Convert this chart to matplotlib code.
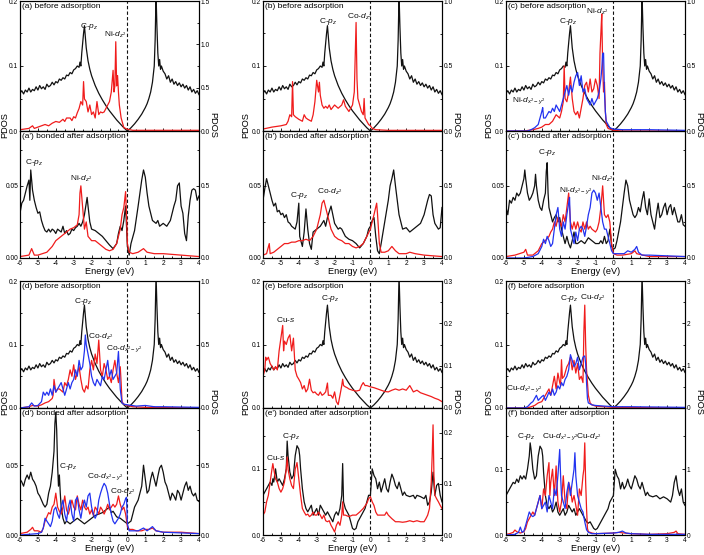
import matplotlib
matplotlib.use("Agg")
import matplotlib.pyplot as plt
from matplotlib.ticker import AutoMinorLocator, MultipleLocator

plt.rcParams['font.family'] = ['Liberation Sans', 'DejaVu Sans']
plt.rcParams['mathtext.fontset'] = 'custom'
plt.rcParams['mathtext.rm'] = 'Liberation Sans'
plt.rcParams['mathtext.it'] = 'Liberation Sans:italic'
plt.rcParams['axes.unicode_minus'] = False

# ---- data: (energy eV, PDOS) ----
# black C-pz of pristine graphene, same in all "before adsorption" panels (left axis)
graphene_cpz = [(-6.0,0.058),(-5.9,0.062),(-5.8,0.057),(-5.7,0.063),(-5.6,0.06),(-5.5,0.066),(-5.4,0.06),(-5.3,0.064),(-5.2,0.062),(-5.1,0.068),(-5.0,0.063),(-4.9,0.07),(-4.8,0.065),(-4.7,0.068),(-4.6,0.064),(-4.5,0.072),(-4.4,0.068),(-4.3,0.07),(-4.2,0.075),(-4.1,0.071),(-4.0,0.076),(-3.9,0.074),(-3.8,0.08),(-3.7,0.078),(-3.6,0.082),(-3.5,0.08),(-3.4,0.086),(-3.3,0.085),(-3.2,0.09),(-3.1,0.088),(-3.0,0.094),(-2.9,0.096),(-2.8,0.1),(-2.7,0.098),(-2.65,0.106),(-2.6,0.1),(-2.55,0.12),(-2.5,0.135),(-2.45,0.15),(-2.4,0.162),(-2.35,0.145),(-2.3,0.128),(-2.2,0.108),(-2.1,0.095),(-2.0,0.085),(-1.8,0.07),(-1.6,0.058),(-1.4,0.048),(-1.2,0.039),(-1.0,0.031),(-0.8,0.024),(-0.6,0.017),(-0.4,0.011),(-0.2,0.005),(0.0,0.0),(0.2,0.005),(0.4,0.011),(0.6,0.018),(0.8,0.026),(1.0,0.036),(1.1,0.042),(1.2,0.05),(1.3,0.06),(1.4,0.075),(1.5,0.1),(1.55,0.14),(1.6,0.21),(1.65,0.16),(1.7,0.12),(1.75,0.1),(1.8,0.11),(1.85,0.095),(1.9,0.1),(2.0,0.092),(2.1,0.088),(2.2,0.08),(2.3,0.085),(2.4,0.075),(2.5,0.08),(2.6,0.072),(2.7,0.076),(2.8,0.07),(2.9,0.074),(3.0,0.068),(3.1,0.072),(3.2,0.066),(3.3,0.07),(3.4,0.063),(3.5,0.068),(3.6,0.06),(3.7,0.064),(3.8,0.058),(3.9,0.062),(4.0,0.056)]

# (a) Ni
a_ni_dz2 = [(-6.0,0.015),(-5.5,0.03),(-5.3,0.06),(-5.2,0.03),(-5.0,0.045),(-4.8,0.06),(-4.6,0.075),(-4.4,0.06),(-4.2,0.09),(-4.0,0.11),(-3.8,0.1),(-3.6,0.135),(-3.5,0.11),(-3.4,0.15),(-3.2,0.15),(-3.1,0.12),(-3.0,0.165),(-2.9,0.15),(-2.8,0.21),(-2.7,0.26),(-2.6,0.34),(-2.5,0.3),(-2.45,0.57),(-2.4,0.37),(-2.3,0.34),(-2.2,0.22),(-2.1,0.3),(-2.0,0.19),(-1.9,0.22),(-1.8,0.15),(-1.7,0.34),(-1.6,0.19),(-1.5,0.22),(-1.4,0.21),(-1.3,0.22),(-1.2,0.26),(-1.1,0.3),(-1.0,0.34),(-0.9,0.45),(-0.8,0.7),(-0.75,0.45),(-0.7,0.52),(-0.65,1.03),(-0.6,0.52),(-0.55,0.64),(-0.5,0.45),(-0.45,0.3),(-0.35,0.15),(-0.2,0.04),(0.0,0.02),(0.3,0.008),(1.0,0.008),(4.0,0.008)]
a_bond_cpz = [(-6.0,0.031),(-5.9,0.038),(-5.8,0.04),(-5.7,0.045),(-5.6,0.05),(-5.5,0.054),(-5.45,0.04),(-5.4,0.061),(-5.3,0.047),(-5.2,0.04),(-5.1,0.035),(-5.0,0.031),(-4.9,0.032),(-4.8,0.026),(-4.7,0.022),(-4.6,0.019),(-4.5,0.018),(-4.4,0.02),(-4.3,0.018),(-4.2,0.02),(-4.1,0.019),(-4.0,0.017),(-3.9,0.02),(-3.8,0.019),(-3.7,0.018),(-3.6,0.022),(-3.5,0.017),(-3.4,0.019),(-3.3,0.016),(-3.2,0.017),(-3.1,0.02),(-3.0,0.019),(-2.9,0.021),(-2.8,0.022),(-2.7,0.024),(-2.6,0.022),(-2.5,0.025),(-2.4,0.03),(-2.3,0.038),(-2.25,0.042),(-2.2,0.036),(-2.1,0.025),(-2.0,0.02),(-1.8,0.019),(-1.6,0.017),(-1.4,0.015),(-1.2,0.012),(-1.0,0.009),(-0.8,0.0065),(-0.6,0.01),(-0.5,0.017),(-0.4,0.022),(-0.3,0.019),(-0.2,0.026),(-0.1,0.036),(0.0,0.008),(0.1,0.002),(0.2,0.01),(0.4,0.019),(0.6,0.036),(0.8,0.054),(0.9,0.061),(1.0,0.056),(1.1,0.045),(1.2,0.036),(1.4,0.026),(1.6,0.024),(1.7,0.026),(1.8,0.022),(2.0,0.024),(2.2,0.022),(2.4,0.026),(2.5,0.031),(2.6,0.036),(2.7,0.04),(2.8,0.05),(2.9,0.052),(3.0,0.036),(3.1,0.031),(3.2,0.017),(3.3,0.012),(3.4,0.029),(3.5,0.04),(3.6,0.047),(3.7,0.048),(3.8,0.047),(3.9,0.04),(4.0,0.043)]
a_bond_ni_dz2 = [(-6.0,0.01),(-5.5,0.02),(-5.35,0.065),(-5.2,0.02),(-5.0,0.02),(-4.5,0.04),(-4.2,0.08),(-4.0,0.12),(-3.8,0.14),(-3.6,0.16),(-3.4,0.18),(-3.2,0.2),(-3.0,0.21),(-2.8,0.23),(-2.7,0.3),(-2.65,0.45),(-2.6,0.5),(-2.5,0.35),(-2.4,0.2),(-2.3,0.25),(-2.2,0.15),(-2.0,0.12),(-1.8,0.12),(-1.6,0.1),(-1.4,0.08),(-1.2,0.06),(-1.0,0.05),(-0.8,0.06),(-0.6,0.1),(-0.4,0.2),(-0.3,0.3),(-0.2,0.35),(-0.1,0.46),(-0.05,0.3),(0.0,0.1),(0.1,0.04),(0.3,0.03),(0.6,0.04),(0.9,0.065),(1.1,0.04),(1.5,0.03),(2.0,0.03),(3.0,0.02),(4.0,0.01)]

# (b) Co
b_co_dz2 = [(-6.0,0.015),(-5.5,0.03),(-5.0,0.04),(-4.7,0.05),(-4.6,0.075),(-4.5,0.125),(-4.4,0.11),(-4.35,0.38),(-4.3,0.125),(-4.2,0.11),(-4.0,0.09),(-3.8,0.075),(-3.7,0.125),(-3.6,0.1),(-3.5,0.09),(-3.3,0.075),(-3.2,0.125),(-3.1,0.225),(-3.0,0.39),(-2.9,0.3),(-2.85,0.375),(-2.8,0.275),(-2.7,0.2),(-2.6,0.175),(-2.5,0.19),(-2.4,0.175),(-2.3,0.2),(-2.2,0.165),(-2.0,0.2),(-1.8,0.175),(-1.6,0.2),(-1.5,0.24),(-1.4,0.19),(-1.2,0.15),(-1.0,0.2),(-0.9,0.3),(-0.8,0.835),(-0.75,0.4),(-0.7,0.25),(-0.6,0.2),(-0.5,0.15),(-0.4,0.125),(-0.35,0.25),(-0.3,0.1),(-0.1,0.05),(0.0,0.04),(0.1,0.02),(0.3,0.01),(1.0,0.005),(4.0,0.005)]
b_bond_cpz = [(-6.0,0.04),(-5.9,0.048),(-5.8,0.055),(-5.7,0.05),(-5.6,0.045),(-5.5,0.04),(-5.4,0.036),(-5.3,0.038),(-5.2,0.032),(-5.1,0.033),(-5.0,0.03),(-4.9,0.031),(-4.8,0.028),(-4.7,0.03),(-4.6,0.025),(-4.5,0.024),(-4.4,0.022),(-4.3,0.021),(-4.2,0.02),(-4.1,0.025),(-4.0,0.038),(-3.95,0.015),(-3.8,0.008),(-3.7,0.018),(-3.6,0.034),(-3.5,0.02),(-3.4,0.01),(-3.3,0.006),(-3.2,0.018),(-3.1,0.019),(-3.0,0.02),(-2.9,0.021),(-2.8,0.022),(-2.7,0.024),(-2.6,0.026),(-2.5,0.022),(-2.4,0.028),(-2.3,0.032),(-2.2,0.036),(-2.1,0.03),(-2.0,0.024),(-1.9,0.022),(-1.8,0.02),(-1.7,0.021),(-1.6,0.02),(-1.4,0.015),(-1.2,0.013),(-1.0,0.012),(-0.8,0.01),(-0.6,0.007),(-0.4,0.01),(-0.2,0.015),(-0.1,0.02),(0.0,0.022),(0.1,0.026),(0.2,0.028),(0.3,0.015),(0.4,0.005),(0.5,0.003),(0.6,0.01),(0.8,0.025),(1.0,0.04),(1.1,0.05),(1.2,0.055),(1.3,0.061),(1.4,0.05),(1.5,0.04),(1.6,0.03),(1.8,0.02),(2.0,0.021),(2.2,0.018),(2.4,0.02),(2.6,0.022),(2.8,0.024),(3.0,0.03),(3.2,0.04),(3.3,0.044),(3.4,0.043),(3.5,0.03),(3.6,0.024),(3.7,0.022),(3.8,0.02),(3.9,0.021),(4.0,0.035)]
b_bond_co_dz2 = [(-6.0,0.02),(-5.8,0.03),(-5.65,0.1),(-5.6,0.03),(-5.4,0.04),(-5.2,0.06),(-5.0,0.08),(-4.8,0.1),(-4.6,0.1),(-4.4,0.11),(-4.2,0.11),(-4.0,0.12),(-3.8,0.12),(-3.6,0.13),(-3.4,0.12),(-3.2,0.15),(-3.0,0.2),(-2.8,0.3),(-2.7,0.38),(-2.6,0.4),(-2.5,0.35),(-2.4,0.3),(-2.3,0.25),(-2.2,0.2),(-2.0,0.15),(-1.8,0.13),(-1.6,0.12),(-1.4,0.1),(-1.2,0.1),(-1.0,0.08),(-0.8,0.07),(-0.6,0.08),(-0.4,0.1),(-0.2,0.15),(0.0,0.2),(0.1,0.25),(0.2,0.3),(0.35,0.38),(0.4,0.3),(0.5,0.1),(0.6,0.04),(0.8,0.04),(1.0,0.05),(1.2,0.08),(1.4,0.05),(1.6,0.03),(2.0,0.03),(2.2,0.04),(2.5,0.03),(3.0,0.02),(4.0,0.01)]

# (c) Ni
c_ni_dz2 = [(-6.0,0.0),(-5.0,0.0),(-4.5,0.01),(-4.2,0.02),(-4.0,0.03),(-3.8,0.05),(-3.6,0.05),(-3.4,0.075),(-3.3,0.1),(-3.2,0.125),(-3.0,0.1),(-2.9,0.15),(-2.8,0.225),(-2.75,0.5),(-2.7,0.25),(-2.6,0.225),(-2.5,0.3),(-2.4,0.415),(-2.3,0.25),(-2.2,0.15),(-2.1,0.125),(-2.0,0.15),(-1.9,0.1),(-1.8,0.175),(-1.7,0.25),(-1.6,0.35),(-1.5,0.375),(-1.4,0.3),(-1.3,0.4),(-1.2,0.3),(-1.1,0.325),(-1.0,0.4),(-0.9,0.35),(-0.8,0.25),(-0.75,0.6),(-0.7,0.75),(-0.65,0.9),(-0.6,0.5),(-0.55,0.3),(-0.5,0.375),(-0.45,0.15),(-0.4,0.05),(-0.3,0.02),(-0.1,0.01),(0.0,0.005),(0.5,0.0),(4.0,0.0)]
c_ni_dx2y2 = [(-6.0,0.0),(-4.8,0.0),(-4.6,0.01),(-4.4,0.025),(-4.2,0.05),(-4.1,0.1),(-4.0,0.15),(-3.95,0.18),(-3.9,0.1),(-3.8,0.1),(-3.7,0.125),(-3.6,0.15),(-3.5,0.14),(-3.4,0.175),(-3.3,0.15),(-3.2,0.2),(-3.1,0.175),(-3.0,0.15),(-2.9,0.2),(-2.8,0.25),(-2.7,0.3),(-2.6,0.35),(-2.5,0.275),(-2.4,0.35),(-2.3,0.3),(-2.2,0.375),(-2.1,0.425),(-2.0,0.45),(-1.9,0.35),(-1.8,0.425),(-1.7,0.3),(-1.6,0.325),(-1.5,0.25),(-1.4,0.225),(-1.3,0.2),(-1.2,0.25),(-1.1,0.2),(-1.0,0.225),(-0.9,0.25),(-0.8,0.3),(-0.7,0.4),(-0.65,0.475),(-0.6,0.595),(-0.55,0.6),(-0.5,0.3),(-0.45,0.15),(-0.4,0.075),(-0.2,0.025),(0.0,0.015),(0.5,0.01),(1.0,0.01),(2.0,0.01),(4.0,0.005)]
c_bond_cpz = [(-6.0,0.035),(-5.9,0.03),(-5.8,0.04),(-5.7,0.038),(-5.6,0.042),(-5.5,0.04),(-5.4,0.045),(-5.3,0.043),(-5.2,0.045),(-5.1,0.05),(-5.0,0.055),(-4.95,0.061),(-4.9,0.055),(-4.8,0.045),(-4.7,0.04),(-4.6,0.042),(-4.5,0.045),(-4.4,0.05),(-4.35,0.058),(-4.3,0.05),(-4.2,0.04),(-4.1,0.035),(-4.0,0.033),(-3.9,0.04),(-3.8,0.045),(-3.75,0.06),(-3.7,0.066),(-3.65,0.045),(-3.6,0.035),(-3.5,0.03),(-3.4,0.025),(-3.3,0.028),(-3.2,0.03),(-3.1,0.025),(-3.0,0.028),(-2.9,0.02),(-2.8,0.015),(-2.7,0.01),(-2.6,0.015),(-2.5,0.01),(-2.4,0.007),(-2.3,0.012),(-2.2,0.018),(-2.1,0.01),(-2.0,0.01),(-1.8,0.012),(-1.6,0.01),(-1.4,0.014),(-1.2,0.012),(-1.0,0.01),(-0.8,0.01),(-0.7,0.012),(-0.6,0.01),(-0.5,0.015),(-0.4,0.01),(-0.3,0.012),(-0.2,0.02),(-0.15,0.015),(-0.1,0.008),(0.0,0.006),(0.1,0.007),(0.2,0.012),(0.4,0.025),(0.5,0.035),(0.6,0.045),(0.7,0.054),(0.8,0.05),(0.9,0.04),(1.0,0.035),(1.1,0.03),(1.2,0.028),(1.3,0.03),(1.4,0.035),(1.5,0.032),(1.6,0.04),(1.7,0.046),(1.8,0.035),(1.9,0.03),(2.0,0.041),(2.1,0.03),(2.2,0.025),(2.3,0.02),(2.4,0.03),(2.5,0.038),(2.6,0.028),(2.7,0.03),(2.8,0.035),(2.9,0.038),(3.0,0.03),(3.1,0.035),(3.2,0.037),(3.3,0.03),(3.4,0.035),(3.5,0.03),(3.6,0.025),(3.7,0.025),(3.8,0.03),(3.9,0.023),(4.0,0.022)]
c_bond_ni_dz2 = [(-6.0,0.01),(-5.5,0.02),(-5.0,0.04),(-4.9,0.06),(-4.8,0.02),(-4.5,0.02),(-4.2,0.05),(-4.0,0.1),(-3.8,0.12),(-3.6,0.15),(-3.5,0.18),(-3.4,0.2),(-3.3,0.25),(-3.2,0.22),(-3.1,0.28),(-3.0,0.25),(-2.9,0.22),(-2.8,0.3),(-2.7,0.25),(-2.6,0.35),(-2.5,0.45),(-2.4,0.25),(-2.3,0.2),(-2.2,0.25),(-2.1,0.2),(-2.0,0.25),(-1.9,0.2),(-1.8,0.18),(-1.7,0.25),(-1.6,0.2),(-1.5,0.25),(-1.4,0.2),(-1.3,0.22),(-1.2,0.2),(-1.0,0.18),(-0.9,0.2),(-0.8,0.25),(-0.7,0.35),(-0.6,0.5),(-0.5,0.3),(-0.4,0.28),(-0.3,0.3),(-0.2,0.25),(-0.1,0.1),(0.0,0.03),(0.2,0.02),(0.5,0.02),(1.0,0.03),(1.2,0.05),(1.3,0.03),(2.0,0.01),(4.0,0.01)]
c_bond_ni_dx2y2 = [(-6.0,0.0),(-5.0,0.0),(-4.5,0.01),(-4.2,0.03),(-4.0,0.08),(-3.9,0.13),(-3.8,0.1),(-3.7,0.15),(-3.6,0.12),(-3.5,0.08),(-3.4,0.1),(-3.3,0.2),(-3.2,0.3),(-3.1,0.35),(-3.0,0.2),(-2.9,0.15),(-2.8,0.25),(-2.7,0.2),(-2.6,0.3),(-2.5,0.38),(-2.45,0.42),(-2.4,0.2),(-2.3,0.15),(-2.2,0.1),(-2.1,0.18),(-2.0,0.12),(-1.9,0.2),(-1.8,0.22),(-1.7,0.2),(-1.6,0.15),(-1.5,0.22),(-1.4,0.3),(-1.3,0.35),(-1.2,0.45),(-1.1,0.47),(-1.0,0.45),(-0.9,0.4),(-0.8,0.45),(-0.7,0.35),(-0.6,0.25),(-0.5,0.2),(-0.4,0.2),(-0.3,0.15),(-0.2,0.1),(-0.1,0.05),(0.0,0.03),(0.3,0.03),(0.6,0.03),(0.8,0.05),(1.0,0.04),(1.2,0.06),(1.3,0.08),(1.4,0.04),(1.6,0.02),(2.0,0.02),(4.0,0.01)]

# (d) Co
d_co_dz2 = [(-6.0,0.0),(-5.5,0.01),(-5.3,0.02),(-5.0,0.015),(-4.8,0.025),(-4.6,0.04),(-4.4,0.05),(-4.2,0.075),(-4.15,0.1),(-4.1,0.225),(-4.0,0.125),(-3.9,0.15),(-3.8,0.15),(-3.6,0.125),(-3.5,0.2),(-3.4,0.175),(-3.3,0.225),(-3.2,0.3),(-3.1,0.25),(-3.0,0.34),(-2.9,0.225),(-2.8,0.275),(-2.7,0.325),(-2.6,0.225),(-2.5,0.15),(-2.4,0.125),(-2.3,0.175),(-2.2,0.15),(-2.1,0.3),(-2.0,0.375),(-1.9,0.3),(-1.8,0.425),(-1.7,0.35),(-1.6,0.535),(-1.5,0.3),(-1.4,0.25),(-1.3,0.35),(-1.2,0.3),(-1.1,0.225),(-1.0,0.25),(-0.9,0.2),(-0.8,0.3),(-0.7,0.375),(-0.6,0.275),(-0.5,0.2),(-0.4,0.325),(-0.35,0.2),(-0.3,0.05),(-0.2,0.03),(0.0,0.02),(0.3,0.01),(1.0,0.005),(4.0,0.0)]
d_co_dx2y2 = [(-6.0,0.0),(-5.5,0.01),(-5.35,0.04),(-5.2,0.015),(-5.0,0.02),(-4.8,0.05),(-4.7,0.125),(-4.6,0.1),(-4.5,0.125),(-4.4,0.1),(-4.3,0.15),(-4.2,0.1),(-4.1,0.175),(-4.0,0.125),(-3.9,0.15),(-3.8,0.175),(-3.7,0.2),(-3.6,0.15),(-3.5,0.1),(-3.4,0.15),(-3.3,0.2),(-3.2,0.15),(-3.1,0.2),(-3.0,0.225),(-2.9,0.3),(-2.8,0.25),(-2.7,0.375),(-2.6,0.3),(-2.5,0.325),(-2.4,0.45),(-2.35,0.575),(-2.3,0.5),(-2.2,0.425),(-2.1,0.35),(-2.0,0.25),(-1.9,0.2),(-1.8,0.175),(-1.7,0.225),(-1.6,0.2),(-1.5,0.175),(-1.4,0.25),(-1.3,0.225),(-1.2,0.3),(-1.1,0.375),(-1.0,0.25),(-0.9,0.3),(-0.8,0.225),(-0.7,0.25),(-0.6,0.275),(-0.5,0.445),(-0.45,0.3),(-0.4,0.15),(-0.3,0.04),(-0.2,0.03),(0.0,0.025),(0.5,0.015),(1.0,0.02),(1.5,0.01),(2.0,0.01),(4.0,0.005)]
d_bond_cpz = [(-6.0,0.04),(-5.9,0.038),(-5.8,0.035),(-5.7,0.04),(-5.6,0.043),(-5.5,0.04),(-5.4,0.045),(-5.3,0.04),(-5.2,0.038),(-5.1,0.035),(-5.0,0.03),(-4.9,0.028),(-4.8,0.025),(-4.7,0.022),(-4.6,0.02),(-4.5,0.022),(-4.4,0.03),(-4.3,0.035),(-4.2,0.045),(-4.1,0.06),(-4.05,0.08),(-4.0,0.088),(-3.95,0.075),(-3.9,0.05),(-3.85,0.035),(-3.8,0.043),(-3.75,0.03),(-3.7,0.02),(-3.6,0.012),(-3.5,0.008),(-3.4,0.01),(-3.2,0.008),(-3.0,0.01),(-2.8,0.012),(-2.6,0.01),(-2.4,0.008),(-2.2,0.01),(-2.0,0.012),(-1.8,0.014),(-1.6,0.015),(-1.4,0.016),(-1.2,0.018),(-1.0,0.02),(-0.9,0.016),(-0.8,0.017),(-0.6,0.013),(-0.4,0.012),(-0.2,0.01),(0.0,0.008),(0.2,0.01),(0.4,0.02),(0.6,0.025),(0.8,0.035),(0.9,0.05),(1.0,0.04),(1.1,0.03),(1.2,0.032),(1.3,0.04),(1.4,0.045),(1.5,0.04),(1.6,0.035),(1.7,0.042),(1.8,0.048),(1.9,0.05),(2.0,0.045),(2.1,0.038),(2.2,0.035),(2.3,0.03),(2.4,0.025),(2.5,0.03),(2.6,0.028),(2.7,0.025),(2.8,0.032),(2.9,0.03),(3.0,0.025),(3.1,0.03),(3.2,0.035),(3.3,0.038),(3.4,0.032),(3.5,0.035),(3.6,0.03),(3.7,0.028),(3.8,0.03),(3.9,0.025),(4.0,0.024)]
d_bond_co_dz2 = [(-6.0,0.01),(-5.6,0.02),(-5.4,0.04),(-5.3,0.055),(-5.2,0.03),(-5.0,0.03),(-4.8,0.02),(-4.7,0.05),(-4.6,0.1),(-4.5,0.13),(-4.4,0.16),(-4.3,0.15),(-4.2,0.2),(-4.1,0.22),(-4.0,0.3),(-3.9,0.2),(-3.8,0.17),(-3.7,0.15),(-3.6,0.2),(-3.5,0.28),(-3.4,0.18),(-3.3,0.15),(-3.2,0.2),(-3.1,0.25),(-3.0,0.2),(-2.9,0.18),(-2.8,0.28),(-2.7,0.22),(-2.6,0.18),(-2.5,0.25),(-2.4,0.2),(-2.3,0.18),(-2.2,0.2),(-2.1,0.15),(-2.0,0.18),(-1.9,0.14),(-1.8,0.2),(-1.7,0.18),(-1.6,0.15),(-1.5,0.2),(-1.4,0.18),(-1.3,0.15),(-1.2,0.18),(-1.1,0.22),(-1.0,0.18),(-0.9,0.2),(-0.8,0.22),(-0.7,0.2),(-0.6,0.22),(-0.5,0.28),(-0.45,0.25),(-0.4,0.22),(-0.3,0.18),(-0.2,0.2),(-0.1,0.15),(0.0,0.06),(0.1,0.04),(0.3,0.04),(0.5,0.03),(0.8,0.03),(1.0,0.04),(1.2,0.04),(1.4,0.05),(1.6,0.03),(2.0,0.02),(3.0,0.02),(4.0,0.01)]
d_bond_co_dx2y2 = [(-6.0,0.0),(-5.0,0.01),(-4.8,0.02),(-4.7,0.05),(-4.6,0.12),(-4.5,0.1),(-4.4,0.08),(-4.3,0.06),(-4.2,0.1),(-4.1,0.18),(-4.0,0.2),(-3.9,0.15),(-3.8,0.12),(-3.7,0.2),(-3.6,0.25),(-3.5,0.15),(-3.4,0.1),(-3.3,0.2),(-3.2,0.25),(-3.1,0.15),(-3.0,0.1),(-2.9,0.25),(-2.8,0.27),(-2.7,0.18),(-2.6,0.12),(-2.5,0.2),(-2.4,0.25),(-2.3,0.2),(-2.2,0.28),(-2.1,0.3),(-2.0,0.2),(-1.9,0.15),(-1.8,0.12),(-1.7,0.15),(-1.6,0.25),(-1.5,0.3),(-1.4,0.34),(-1.3,0.37),(-1.2,0.35),(-1.1,0.3),(-1.0,0.22),(-0.9,0.15),(-0.8,0.1),(-0.7,0.08),(-0.6,0.1),(-0.5,0.12),(-0.4,0.15),(-0.3,0.2),(-0.2,0.22),(-0.1,0.26),(-0.05,0.27),(0.0,0.08),(0.1,0.03),(0.3,0.03),(0.6,0.03),(0.9,0.05),(1.1,0.03),(1.4,0.06),(1.6,0.03),(2.0,0.02),(4.0,0.01)]

# (e) Cu-s
e_cu_s = [(-6.0,0.075),(-5.9,0.09),(-5.85,0.12),(-5.8,0.113),(-5.7,0.12),(-5.6,0.105),(-5.5,0.098),(-5.4,0.09),(-5.3,0.098),(-5.2,0.09),(-5.1,0.135),(-4.9,0.195),(-4.85,0.135),(-4.8,0.158),(-4.7,0.15),(-4.6,0.165),(-4.5,0.173),(-4.4,0.135),(-4.3,0.165),(-4.2,0.09),(-4.1,0.075),(-4.0,0.068),(-3.9,0.06),(-3.8,0.045),(-3.7,0.053),(-3.6,0.038),(-3.5,0.045),(-3.4,0.068),(-3.3,0.042),(-3.2,0.036),(-3.1,0.038),(-3.0,0.033),(-2.9,0.03),(-2.8,0.038),(-2.7,0.03),(-2.6,0.033),(-2.5,0.038),(-2.4,0.059),(-2.35,0.03),(-2.2,0.03),(-2.1,0.023),(-2.0,0.038),(-1.9,0.015),(-1.8,0.008),(-1.7,0.03),(-1.6,0.053),(-1.55,0.068),(-1.5,0.053),(-1.4,0.05),(-1.3,0.048),(-1.2,0.045),(-1.0,0.042),(-0.8,0.04),(-0.6,0.042),(-0.5,0.053),(-0.4,0.06),(-0.3,0.053),(-0.2,0.053),(0.0,0.05),(0.2,0.048),(0.4,0.045),(0.6,0.042),(0.8,0.039),(1.0,0.038),(1.2,0.042),(1.4,0.045),(1.6,0.042),(1.8,0.045),(2.0,0.042),(2.2,0.053),(2.4,0.038),(2.6,0.042),(2.8,0.036),(3.0,0.033),(3.2,0.03),(3.4,0.027),(3.6,0.023),(3.8,0.02),(4.0,0.015)]
e_bond_cpz = [(-6.0,0.06),(-5.9,0.065),(-5.8,0.07),(-5.7,0.075),(-5.6,0.08),(-5.5,0.075),(-5.45,0.085),(-5.4,0.08),(-5.3,0.1),(-5.2,0.08),(-5.1,0.085),(-5.0,0.08),(-4.9,0.075),(-4.8,0.085),(-4.7,0.1),(-4.65,0.142),(-4.6,0.12),(-4.5,0.095),(-4.4,0.085),(-4.3,0.09),(-4.2,0.12),(-4.1,0.135),(-4.0,0.13),(-3.95,0.12),(-3.9,0.1),(-3.8,0.07),(-3.7,0.05),(-3.6,0.04),(-3.5,0.035),(-3.4,0.04),(-3.3,0.045),(-3.2,0.03),(-3.1,0.035),(-3.0,0.04),(-2.9,0.03),(-2.8,0.045),(-2.7,0.04),(-2.6,0.035),(-2.5,0.03),(-2.4,0.035),(-2.3,0.03),(-2.2,0.025),(-2.1,0.02),(-2.0,0.03),(-1.9,0.035),(-1.8,0.03),(-1.7,0.04),(-1.6,0.06),(-1.55,0.108),(-1.5,0.05),(-1.4,0.04),(-1.3,0.035),(-1.2,0.03),(-1.1,0.02),(-1.0,0.01),(-0.9,0.008),(-0.8,0.01),(-0.7,0.02),(-0.6,0.025),(-0.5,0.03),(-0.4,0.035),(-0.3,0.04),(-0.2,0.05),(-0.1,0.06),(0.0,0.06),(0.05,0.08),(0.1,0.1),(0.2,0.09),(0.3,0.085),(0.4,0.07),(0.5,0.08),(0.6,0.065),(0.7,0.075),(0.8,0.085),(0.9,0.07),(1.0,0.065),(1.1,0.08),(1.2,0.092),(1.3,0.085),(1.4,0.075),(1.5,0.07),(1.6,0.08),(1.7,0.07),(1.8,0.06),(1.9,0.065),(2.0,0.06),(2.2,0.058),(2.4,0.06),(2.5,0.055),(2.6,0.06),(2.8,0.058),(3.0,0.055),(3.1,0.06),(3.2,0.045),(3.3,0.05),(3.4,0.065),(3.5,0.095),(3.6,0.06),(3.7,0.075),(3.8,0.078),(3.9,0.06),(4.0,0.05)]
e_bond_cu_s = [(-6.0,0.039),(-5.9,0.045),(-5.8,0.065),(-5.7,0.078),(-5.6,0.104),(-5.5,0.129),(-5.45,0.14),(-5.4,0.129),(-5.3,0.11),(-5.2,0.104),(-5.1,0.091),(-5.0,0.084),(-4.9,0.091),(-4.8,0.104),(-4.7,0.129),(-4.65,0.153),(-4.6,0.129),(-4.5,0.11),(-4.4,0.097),(-4.3,0.091),(-4.2,0.129),(-4.1,0.142),(-4.0,0.11),(-3.9,0.078),(-3.8,0.052),(-3.7,0.045),(-3.6,0.039),(-3.5,0.041),(-3.4,0.036),(-3.3,0.039),(-3.2,0.045),(-3.1,0.039),(-3.0,0.039),(-2.9,0.045),(-2.8,0.039),(-2.7,0.032),(-2.6,0.039),(-2.5,0.028),(-2.4,0.026),(-2.3,0.028),(-2.2,0.019),(-2.1,0.013),(-2.0,0.006),(-1.9,0.019),(-1.8,0.026),(-1.7,0.019),(-1.6,0.039),(-1.55,0.065),(-1.5,0.039),(-1.4,0.039),(-1.2,0.036),(-1.0,0.039),(-0.8,0.039),(-0.6,0.045),(-0.4,0.052),(-0.2,0.062),(-0.1,0.071),(0.0,0.075),(0.1,0.065),(0.2,0.058),(0.3,0.045),(0.4,0.039),(0.6,0.039),(0.8,0.039),(0.9,0.045),(1.0,0.039),(1.2,0.032),(1.4,0.026),(1.6,0.026),(1.8,0.025),(2.0,0.026),(2.2,0.028),(2.4,0.026),(2.6,0.028),(2.8,0.026),(3.0,0.026),(3.1,0.032),(3.2,0.039),(3.3,0.052),(3.4,0.104),(3.45,0.155),(3.5,0.216),(3.55,0.116),(3.6,0.078),(3.7,0.071),(3.8,0.065),(3.9,0.058),(4.0,0.052)]

# (f) Cu-d
f_cu_dz2 = [(-6.0,0.0),(-4.8,0.0),(-4.6,0.03),(-4.4,0.06),(-4.2,0.12),(-4.0,0.15),(-3.9,0.225),(-3.8,0.3),(-3.7,0.375),(-3.6,0.45),(-3.5,0.3),(-3.4,0.525),(-3.3,0.75),(-3.2,0.45),(-3.1,0.825),(-3.0,0.6),(-2.95,0.525),(-2.9,1.14),(-2.85,0.7),(-2.75,0.75),(-2.7,0.825),(-2.6,0.975),(-2.5,1.05),(-2.4,1.2),(-2.3,0.9),(-2.2,1.125),(-2.1,0.825),(-2.0,1.05),(-1.9,0.675),(-1.8,0.75),(-1.7,0.6),(-1.65,1.8),(-1.6,2.43),(-1.55,1.5),(-1.5,0.9),(-1.45,0.6),(-1.4,0.3),(-1.3,0.12),(-1.2,0.075),(-1.0,0.045),(0.0,0.015),(4.0,0.0)]
f_cu_dx2y2 = [(-6.0,0.0),(-5.0,0.0),(-4.8,0.03),(-4.7,0.075),(-4.6,0.12),(-4.5,0.15),(-4.4,0.225),(-4.3,0.3),(-4.2,0.18),(-4.1,0.225),(-4.0,0.27),(-3.9,0.3),(-3.8,0.18),(-3.7,0.27),(-3.6,0.375),(-3.5,0.3),(-3.4,0.45),(-3.3,0.3),(-3.2,0.375),(-3.1,0.525),(-3.0,0.45),(-2.9,0.6),(-2.8,0.525),(-2.7,0.675),(-2.6,0.75),(-2.5,0.9),(-2.4,1.26),(-2.3,1.125),(-2.2,0.975),(-2.1,1.05),(-2.0,1.2),(-1.9,0.9),(-1.8,1.05),(-1.7,1.2),(-1.6,1.23),(-1.55,1.05),(-1.5,0.6),(-1.45,0.225),(-1.4,0.12),(-1.2,0.075),(-1.0,0.06),(-0.5,0.045),(0.0,0.03),(1.0,0.03),(4.0,0.015)]
f_bond_cpz = [(-6.0,0.06),(-5.9,0.065),(-5.8,0.07),(-5.7,0.075),(-5.6,0.08),(-5.5,0.078),(-5.4,0.085),(-5.3,0.08),(-5.2,0.09),(-5.1,0.085),(-5.0,0.09),(-4.9,0.085),(-4.8,0.1),(-4.7,0.12),(-4.65,0.14),(-4.6,0.13),(-4.5,0.1),(-4.4,0.085),(-4.3,0.09),(-4.2,0.12),(-4.1,0.135),(-4.0,0.13),(-3.95,0.12),(-3.9,0.095),(-3.8,0.06),(-3.7,0.045),(-3.6,0.04),(-3.5,0.045),(-3.4,0.035),(-3.3,0.04),(-3.2,0.05),(-3.1,0.035),(-3.0,0.03),(-2.9,0.035),(-2.8,0.04),(-2.7,0.03),(-2.6,0.035),(-2.5,0.045),(-2.4,0.04),(-2.3,0.035),(-2.2,0.04),(-2.1,0.03),(-2.0,0.035),(-1.9,0.04),(-1.8,0.035),(-1.7,0.03),(-1.6,0.025),(-1.5,0.02),(-1.4,0.018),(-1.3,0.02),(-1.2,0.015),(-1.1,0.01),(-1.0,0.008),(-0.9,0.01),(-0.8,0.015),(-0.7,0.02),(-0.6,0.025),(-0.5,0.03),(-0.4,0.035),(-0.3,0.04),(-0.2,0.05),(-0.1,0.055),(0.0,0.06),(0.05,0.08),(0.1,0.1),(0.2,0.09),(0.3,0.085),(0.4,0.07),(0.5,0.08),(0.6,0.07),(0.7,0.075),(0.8,0.085),(0.9,0.075),(1.0,0.07),(1.1,0.08),(1.2,0.09),(1.3,0.085),(1.4,0.075),(1.5,0.07),(1.6,0.08),(1.7,0.07),(1.8,0.06),(1.9,0.065),(2.0,0.06),(2.2,0.058),(2.4,0.06),(2.6,0.055),(2.8,0.058),(3.0,0.055),(3.2,0.05),(3.3,0.06),(3.4,0.08),(3.5,0.09),(3.6,0.07),(3.7,0.06),(3.8,0.07),(3.9,0.05),(4.0,0.045)]
f_bond_cu_dz2 = [(-6.0,0.01),(-5.8,0.02),(-5.6,0.04),(-5.5,0.076),(-5.4,0.05),(-5.3,0.04),(-5.2,0.03),(-5.0,0.05),(-4.9,0.1),(-4.8,0.2),(-4.7,0.25),(-4.6,0.3),(-4.5,0.35),(-4.4,0.3),(-4.3,0.4),(-4.2,0.5),(-4.1,0.6),(-4.0,0.4),(-3.9,0.7),(-3.8,0.6),(-3.7,0.9),(-3.6,1.1),(-3.55,0.6),(-3.5,0.8),(-3.4,1.0),(-3.3,0.6),(-3.2,1.05),(-3.1,0.5),(-3.0,0.35),(-2.9,0.5),(-2.8,0.9),(-2.7,0.5),(-2.6,0.4),(-2.5,0.8),(-2.4,0.7),(-2.3,0.5),(-2.2,0.6),(-2.1,0.45),(-2.0,0.3),(-1.9,0.7),(-1.8,0.6),(-1.7,0.9),(-1.65,1.0),(-1.6,1.4),(-1.55,0.8),(-1.5,0.4),(-1.45,0.1),(-1.4,0.05),(-1.2,0.03),(-1.0,0.02),(0.0,0.03),(0.3,0.04),(0.6,0.03),(1.0,0.02),(2.0,0.01),(3.0,0.02),(3.4,0.04),(3.5,0.06),(3.6,0.02),(4.0,0.01)]
f_bond_cu_dx2y2 = [(-6.0,0.0),(-5.5,0.01),(-5.3,0.04),(-5.2,0.12),(-5.1,0.04),(-5.0,0.06),(-4.9,0.15),(-4.8,0.25),(-4.7,0.35),(-4.6,0.3),(-4.5,0.28),(-4.4,0.3),(-4.3,0.4),(-4.2,0.5),(-4.1,0.6),(-4.0,0.4),(-3.9,0.45),(-3.8,0.5),(-3.7,0.35),(-3.6,0.6),(-3.5,0.5),(-3.4,0.4),(-3.3,0.7),(-3.2,0.6),(-3.1,0.9),(-3.0,1.3),(-2.95,0.9),(-2.9,0.6),(-2.8,0.5),(-2.7,0.4),(-2.6,0.65),(-2.5,0.8),(-2.4,0.6),(-2.3,0.8),(-2.2,1.0),(-2.15,1.25),(-2.1,0.9),(-2.0,0.6),(-1.9,0.5),(-1.8,0.4),(-1.7,0.35),(-1.6,0.2),(-1.5,0.08),(-1.4,0.04),(-1.2,0.02),(-1.0,0.02),(0.0,0.03),(0.3,0.04),(0.5,0.06),(0.7,0.03),(1.0,0.02),(2.0,0.01),(4.0,0.01)]

RED = '#f01c1c'
BLUE = '#2233f0'
BLACK = '#111111'

CPZ = 'C-$p_z$'
NI_Z2 = 'Ni-$d_{z^2}$'
NI_XY = 'Ni-$d_{x^2-y^2}$'
CO_Z2 = 'Co-$d_{z^2}$'
CO_XY = 'Co-$d_{x^2-y^2}$'
CU_Z2 = 'Cu-$d_{z^2}$'
CU_XY = 'Cu-$d_{x^2-y^2}$'
CU_S = 'Cu-$s$'

panels = [
    dict(tag='a', col=0, row=0,
         top=(graphene_cpz, [(a_ni_dz2, RED)]), top_r=(1.5, [0, 0.5, 1.0, 1.5], '%.1f'),
         top_notes=[(CPZ, -2.15, 0.16), (NI_Z2, -0.7, 0.148)],
         bot=(a_bond_cpz, [(a_bond_ni_dz2, RED)]), bot_l=(0.088, [0, 0.05], '%.2f'), bot_r=(0.88, [0, 0.5], '%.1f'),
         bot_notes=[(CPZ, -5.2, 0.066), (NI_Z2, -2.6, 0.055)]),
    dict(tag='b', col=1, row=0,
         top=(graphene_cpz, [(b_co_dz2, RED)]), top_r=(1.0, [0, 0.5, 1.0], '%.1f'),
         top_notes=[(CPZ, -2.35, 0.168), (CO_Z2, -0.6, 0.175)],
         bot=(b_bond_cpz, [(b_bond_co_dz2, RED)]), bot_l=(0.088, [0, 0.05], '%.2f'), bot_r=(0.88, [0, 0.5], '%.1f'),
         bot_notes=[(CPZ, -4.0, 0.043), (CO_Z2, -2.3, 0.046)]),
    dict(tag='c', col=2, row=0,
         top=(graphene_cpz, [(c_ni_dz2, RED), (c_ni_dx2y2, BLUE)]), top_r=(1.0, [0, 0.5, 1.0], '%.1f'),
         top_notes=[(CPZ, -2.5, 0.168), (NI_Z2, -0.9, 0.183), (NI_XY, -4.7, 0.047)],
         bot=(c_bond_cpz, [(c_bond_ni_dz2, RED), (c_bond_ni_dx2y2, BLUE)]), bot_l=(0.088, [0, 0.05], '%.2f'), bot_r=(0.88, [0, 0.5], '%.1f'),
         bot_notes=[(CPZ, -3.7, 0.073), (NI_XY, -2.1, 0.047), (NI_Z2, -0.6, 0.055)]),
    dict(tag='d', col=0, row=1,
         top=(graphene_cpz, [(d_co_dz2, RED), (d_co_dx2y2, BLUE)]), top_r=(1.0, [0, 0.5, 1.0], '%.1f'),
         top_notes=[(CPZ, -2.45, 0.168), (CO_Z2, -1.5, 0.112), (CO_XY, -0.2, 0.094)],
         bot=(d_bond_cpz, [(d_bond_co_dz2, RED), (d_bond_co_dx2y2, BLUE)]), bot_l=(0.091, [0, 0.05], '%.2f'), bot_r=(0.91, [0, 0.5], '%.1f'),
         bot_notes=[(CPZ, -3.3, 0.049), (CO_XY, -1.25, 0.042), (CO_Z2, -0.25, 0.031)]),
    dict(tag='e', col=1, row=1,
         top=(graphene_cpz, [(e_cu_s, RED)]), top_r=(0.3, [0, 0.1, 0.2, 0.3], '%.1f'),
         top_notes=[(CPZ, -2.25, 0.172), (CU_S, -4.75, 0.139)],
         bot=(e_bond_cpz, [(e_bond_cu_s, RED)]), bot_l=(0.192, [0, 0.1], '%.1f'), bot_r=(0.249, [0, 0.1, 0.2], '%.1f'),
         bot_notes=[(CPZ, -4.4, 0.149), (CU_S, -5.3, 0.117)]),
    dict(tag='f', col=2, row=1,
         top=(graphene_cpz, [(f_cu_dz2, RED), (f_cu_dx2y2, BLUE)]), top_r=(3.0, [0, 1, 2, 3], '%d'),
         top_notes=[(CPZ, -2.45, 0.173), (CU_Z2, -1.15, 0.173), (CU_XY, -5.0, 0.031)],
         bot=(f_bond_cpz, [(f_bond_cu_dz2, RED), (f_bond_cu_dx2y2, BLUE)]), bot_l=(0.193, [0, 0.1], '%.1f'), bot_r=(1.93, [0, 1], '%d'),
         bot_notes=[(CPZ, -4.85, 0.149), (CU_XY, -3.0, 0.149), (CU_Z2, -1.4, 0.149)]),
]

W, H = 704, 555
col_x = [20, 263, 506]
row_y = [(1, 131, 258), (281, 408, 535)]
PW = 179
FS_TICK = 4.8
FS_TEXT = 6.0
FS_LABEL = 6.6
left_label_dx = [15, 17, 17]


def xy(pairs):
    return [p[0] for p in pairs], [p[1] for p in pairs]


def style(ax):
    ax.tick_params(which='both', direction='in', labelsize=FS_TICK, pad=1.2, width=0.6)
    ax.tick_params(which='major', length=2.5)
    ax.tick_params(which='minor', length=1.4)
    for s in ax.spines.values():
        s.set_linewidth(0.8)


fig = plt.figure(figsize=(W / 100, H / 100), dpi=100)

for p in panels:
    x0 = col_x[p['col']]
    y_top, y_mid, y_bot = row_y[p['row']]
    ax_t = fig.add_axes([x0 / W, 1 - y_mid / H, PW / W, (y_mid - y_top) / H])
    ax_b = fig.add_axes([x0 / W, 1 - y_bot / H, PW / W, (y_bot - y_mid) / H])
    rt = ax_t.twinx()
    rb = ax_b.twinx()

    for ax, rax, (black, colored), notes in [(ax_t, rt, p['top'], p['top_notes']),
                                             (ax_b, rb, p['bot'], p['bot_notes'])]:
        ex, ey = xy(black)
        ax.plot(ex, ey, color=BLACK, lw=0.9)
        for data, c in colored:
            cx, cy = xy(data)
            rax.plot(cx, cy, color=c, lw=0.9)
        ax.axvline(0, color=BLACK, lw=0.8, ls=(0, (3, 2)))
        ax.set_xlim(-6, 4)
        ax.xaxis.set_major_locator(MultipleLocator(1))
        ax.xaxis.set_minor_locator(AutoMinorLocator(2))
        for s, nx, ny in notes:
            rax.text(nx, ny, s, transform=ax.transData, ha='center', va='center',
                     fontsize=FS_TEXT, color=BLACK, zorder=10)
        style(ax)
        style(rax)

    # top subpanel axes
    ax_t.set_ylim(0, 0.2)
    ax_t.set_yticks([0, 0.1, 0.2], labels=['0.0', '0.1', '0.2'])
    ax_t.yaxis.set_minor_locator(AutoMinorLocator(2))
    ax_t.tick_params(axis='x', labelbottom=False)
    rmax, rticks, rfmt = p['top_r']
    rt.set_ylim(0, rmax)
    rt.set_yticks(rticks, labels=[rfmt % v for v in rticks])
    rt.yaxis.set_minor_locator(AutoMinorLocator(2))

    # bottom subpanel axes
    lmax, lticks, lfmt = p['bot_l']
    ax_b.set_ylim(0, lmax)
    ax_b.set_yticks(lticks, labels=[lfmt % v for v in lticks])
    ax_b.yaxis.set_minor_locator(AutoMinorLocator(2))
    ax_b.set_xticks(range(-6, 5), labels=[str(v) for v in range(-6, 5)])
    rmax, rticks, rfmt = p['bot_r']
    rb.set_ylim(0, rmax)
    rb.set_yticks(rticks, labels=[rfmt % v for v in rticks])
    rb.yaxis.set_minor_locator(AutoMinorLocator(2))

    tag = p['tag']
    ax_t.text(0.01, 0.985, '(%s) before adsorption' % tag, transform=ax_t.transAxes,
              ha='left', va='top', fontsize=FS_TEXT)
    ax_b.text(0.01, 0.985, "(%s') bonded after adsorption" % tag, transform=ax_b.transAxes,
              ha='left', va='top', fontsize=FS_TEXT)

    dx = left_label_dx[p['col']]
    fig.text((x0 - dx) / W, 1 - (y_mid - 6) / H, 'PDOS', rotation=90, ha='center', va='center', fontsize=FS_LABEL)
    fig.text((x0 + PW + 14) / W, 1 - (y_mid - 6) / H, 'PDOS', rotation=270, ha='center', va='center', fontsize=FS_LABEL)
    fig.text((x0 + PW / 2) / W, 1 - (y_bot + 13.5) / H, 'Energy (eV)', ha='center', va='center', fontsize=FS_LABEL)

fig.savefig('out.png', dpi=100)
